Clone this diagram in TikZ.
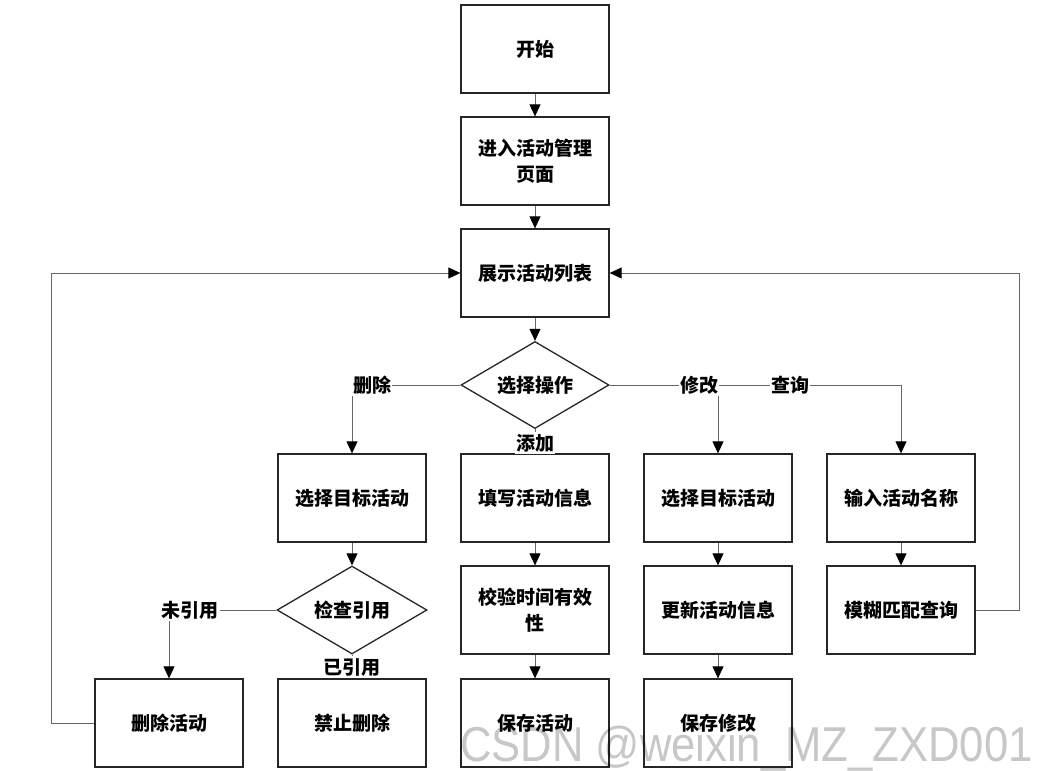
\documentclass[tikz,border=0pt]{standalone}
\usepackage{fontspec}
\setmainfont{Noto Sans CJK SC}
\newfontfamily\wmfont{Liberation Sans}
\usetikzlibrary{shapes.geometric,arrows.meta}
\begin{document}
\begin{tikzpicture}[x=1pt,y=-1pt,
  every node/.style={font=\fontsize{19}{26}\selectfont\bfseries},
  stepbox/.style={draw=black!85,line width=1.3pt,minimum width=148pt,minimum height=88pt,inner sep=0pt,align=center},
  choice/.style={draw=black!85,line width=1.3pt,diamond,aspect=1.7,inner sep=0pt,minimum width=148pt,minimum height=87pt,align=center},
  conn/.style={draw=black!60,line width=0.9pt},
  arr/.style={conn,-{Triangle[length=12pt,width=11pt,color=black]}},
  lbl/.style={fill=white,inner xsep=1pt,inner ysep=2pt}
]
\useasboundingbox (0,0) rectangle (1055,771);
\fill[white] (0,0) rectangle (1055,771);

\node[stepbox] (start) at (535,49) {开始};
\node[stepbox] (enter) at (535,161) {进入活动管理\\页面};
\node[stepbox] (list) at (535,273) {展示活动列表};
\node[choice] (op) at (535,385) {选择操作};

\node[stepbox] (del1) at (352,498) {选择目标活动};
\node[stepbox] (add1) at (535,498) {填写活动信息};
\node[stepbox] (mod1) at (718,498) {选择目标活动};
\node[stepbox] (q1) at (901,498) {输入活动名称};

\node[choice,minimum width=150pt,minimum height=88pt] (chk) at (352,610) {检查引用};
\node[stepbox] (add2) at (535,610) {校验时间有效\\性};
\node[stepbox] (mod2) at (718,610) {更新活动信息};
\node[stepbox] (q2) at (901,610) {模糊匹配查询};

\node[stepbox] (del2) at (169,723) {删除活动};
\node[stepbox] (forbid) at (352,723) {禁止删除};
\node[stepbox] (add3) at (535,723) {保存活动};
\node[stepbox] (mod3) at (718,723) {保存修改};

\coordinate (lc) at (51,723);
\coordinate (rc) at (1019,610);

\draw[arr] (start) -- (enter);
\draw[arr] (enter) -- (list);
\draw[arr] (list) -- (op);
\draw[arr] (op.west) -| (del1.north);
\draw[arr] (op.south) -- (add1.north);
\draw[arr] (op.east) -| (q1.north);
\draw[arr] (op.east) -| (mod1.north);
\draw[arr] (del1) -- (chk);
\draw[arr] (chk.west) -| (del2.north);
\draw[arr] (chk.south) -- (forbid.north);
\draw[arr] (add1) -- (add2);
\draw[arr] (add2) -- (add3);
\draw[arr] (mod1) -- (mod2);
\draw[arr] (mod2) -- (mod3);
\draw[arr] (q1) -- (q2);
\draw[arr] (del2.west) -- (lc) |- (list.west);
\draw[arr] (q2.east) -- (rc) |- (list.east);

\node[lbl] (lDel) at (372,385) {删除};
\node[lbl] (lAdd) at (535,443) {添加};
\node[lbl] (lMod) at (699,385) {修改};
\node[lbl] (lQry) at (790,385) {查询};
\node[lbl] (lNo) at (190,610) {未引用};
\node[lbl] (lYes) at (352,667) {已引用};

\node[anchor=base west,inner sep=0pt,xscale=0.89,text=black,opacity=0.22,font=\wmfont\fontsize{49}{49}\selectfont] (wm) at (460,761) {CSDN @weixin\_MZ\_ZXD001};
\end{tikzpicture}
\end{document}
